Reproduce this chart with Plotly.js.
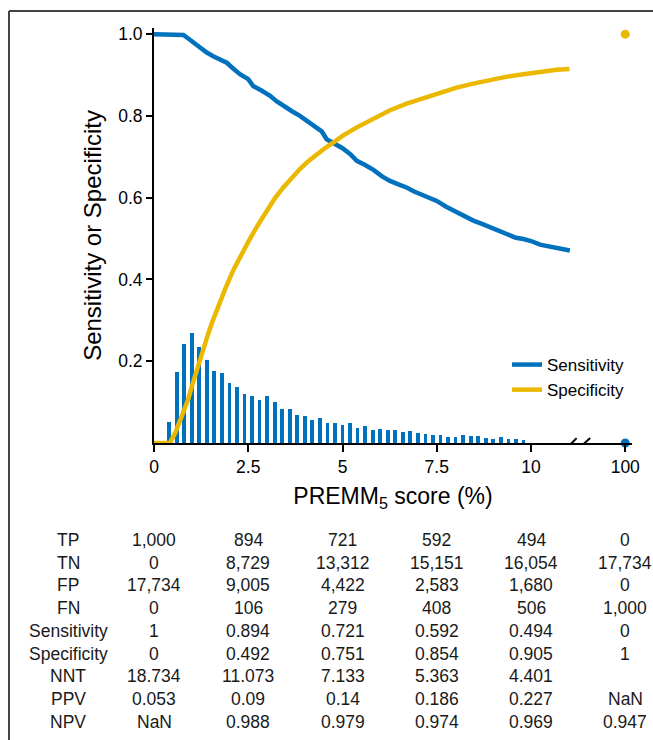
<!DOCTYPE html>
<html>
<head>
<meta charset="utf-8">
<script src="https://cdn.plot.ly/plotly-3.0.1.min.js"></script>
<style>html,body{margin:0;padding:0;background:#fff;}#chart{width:653px;height:740px;}</style>
</head>
<body>
<div id="chart"></div>
<script>
// ---------- data ----------
const sensScore = [0, 0.5, 0.78, 0.9, 1.04, 1.22, 1.4, 1.57, 1.75, 1.93, 2.1, 2.28, 2.5, 2.63, 2.85, 3.08, 3.25, 3.43, 3.65, 3.87, 4.1, 4.32, 4.45, 4.58, 4.75, 4.93, 5.0, 5.2, 5.38, 5.6, 5.82, 6.05, 6.26, 6.5, 6.7, 6.9, 7.14, 7.35, 7.5, 7.75, 8.03, 8.25, 8.47, 8.7, 8.91, 9.15, 9.36, 9.6, 9.8, 10.0, 10.24, 10.45, 10.68, 10.85, 11.03];
const sensValue = [1.0, 1.0, 0.998, 0.99, 0.98, 0.967, 0.955, 0.946, 0.938, 0.93, 0.916, 0.902, 0.89, 0.873, 0.862, 0.849, 0.836, 0.824, 0.812, 0.8, 0.786, 0.771, 0.762, 0.743, 0.735, 0.727, 0.721, 0.707, 0.69, 0.68, 0.668, 0.652, 0.641, 0.632, 0.625, 0.615, 0.605, 0.597, 0.592, 0.578, 0.564, 0.554, 0.544, 0.536, 0.528, 0.519, 0.511, 0.502, 0.499, 0.494, 0.485, 0.481, 0.477, 0.474, 0.471];

const specScore = [0, 0.42, 0.56, 0.67, 0.78, 0.9, 1.0, 1.11, 1.22, 1.33, 1.44, 1.55, 1.66, 1.88, 2.1, 2.3, 2.5, 2.75, 2.99, 3.2, 3.43, 3.65, 3.87, 4.1, 4.32, 4.55, 4.76, 5.0, 5.38, 5.82, 6.26, 6.7, 7.14, 7.5, 8.03, 8.47, 8.91, 9.36, 9.8, 10.0, 10.24, 10.68, 11.02];
const specValue = [0, 0, 0.024, 0.048, 0.072, 0.105, 0.137, 0.172, 0.205, 0.238, 0.268, 0.297, 0.325, 0.375, 0.422, 0.458, 0.492, 0.532, 0.568, 0.598, 0.625, 0.648, 0.67, 0.69, 0.707, 0.722, 0.735, 0.751, 0.772, 0.794, 0.814, 0.83, 0.843, 0.854, 0.869, 0.879, 0.888, 0.896, 0.902, 0.905, 0.909, 0.913, 0.915];

const histBins = [0.4, 0.6, 0.8, 1.0, 1.2, 1.4, 1.6, 1.8, 2.0, 2.2, 2.4, 2.6, 2.8, 3.0, 3.2, 3.4, 3.6, 3.8, 4.0, 4.2, 4.4, 4.6, 4.8, 5.0, 5.2, 5.4, 5.6, 5.8, 6.0, 6.2, 6.4, 6.6, 6.8, 7.0, 7.2, 7.4, 7.6, 7.8, 8.0, 8.2, 8.4, 8.6, 8.8, 9.0, 9.2, 9.4, 9.6, 9.8];
const histHeight = [0.051, 0.174, 0.243, 0.269, 0.234, 0.204, 0.177, 0.172, 0.147, 0.136, 0.121, 0.116, 0.105, 0.114, 0.100, 0.084, 0.082, 0.069, 0.066, 0.056, 0.060, 0.050, 0.050, 0.043, 0.050, 0.037, 0.041, 0.032, 0.034, 0.031, 0.033, 0.027, 0.029, 0.025, 0.021, 0.019, 0.020, 0.015, 0.015, 0.019, 0.016, 0.016, 0.012, 0.011, 0.015, 0.011, 0.009, 0.008];

const endScore = [100];
const endSens = [0];
const endSpec = [1];

const scoreTicks = [0, 2.5, 5, 7.5, 10, 100];
const yTicks = [0.2, 0.4, 0.6, 0.8, 1.0];

const rowLabels = ['TP', 'TN', 'FP', 'FN', 'Sensitivity', 'Specificity', 'NNT', 'PPV', 'NPV'];
const tpRow   = ['1,000', '894', '721', '592', '494', '0'];
const tnRow   = ['0', '8,729', '13,312', '15,151', '16,054', '17,734'];
const fpRow   = ['17,734', '9,005', '4,422', '2,583', '1,680', '0'];
const fnRow   = ['0', '106', '279', '408', '506', '1,000'];
const sensRow = ['1', '0.894', '0.721', '0.592', '0.494', '0'];
const specRow = ['0', '0.492', '0.751', '0.854', '0.905', '1'];
const nntRow  = ['18.734', '11.073', '7.133', '5.363', '4.401', ''];
const ppvRow  = ['0.053', '0.09', '0.14', '0.186', '0.227', 'NaN'];
const npvRow  = ['NaN', '0.988', '0.979', '0.974', '0.969', '0.947'];
const tableRows = [tpRow, tnRow, fpRow, fnRow, sensRow, specRow, nntRow, ppvRow, npvRow];

// ---------- broken axis mapping (0..11 linear, 100 placed after the break) ----------
const BREAK_POS = 12.5;
function axisPos(v) { return v > 20 ? BREAK_POS : v; }

// ---------- style ----------
const BLUE = '#0072BD';
const YELLOW = '#EBB800';
const FONT = 'Liberation Sans, Arial, Helvetica, sans-serif';

const traces = [
  {
    type: 'bar', x: histBins, y: histHeight, width: 0.1,
    marker: {color: BLUE, line: {width: 0}}, showlegend: false, hoverinfo: 'skip'
  },
  {
    type: 'scatter', mode: 'lines', x: sensScore, y: sensValue, name: 'Sensitivity',
    line: {color: BLUE, width: 4.5}
  },
  {
    type: 'scatter', mode: 'lines', x: specScore, y: specValue, name: 'Specificity',
    line: {color: YELLOW, width: 4.5}
  },
  {
    type: 'scatter', mode: 'markers', x: endScore.map(axisPos), y: endSens, showlegend: false,
    marker: {color: BLUE, size: 9}, cliponaxis: false
  },
  {
    type: 'scatter', mode: 'markers', x: endScore.map(axisPos), y: endSpec, showlegend: false,
    marker: {color: YELLOW, size: 9}, cliponaxis: false
  }
];

// plot geometry helpers (paper coordinates)
const L = 154, R = 21, T = 28, B = 297, W = 653, H = 740;
const PW = W - L - R, PH = H - T - B;
function px2paperX(px) { return (px - L) / PW; }
function py2paperY(py) { return (H - B - py) / PH; }

const annotations = [];
const rowY0 = 540, rowStep = 22.7;
rowLabels.forEach((lab, r) => {
  const yp = py2paperY(rowY0 + r * rowStep);
  annotations.push({xref: 'paper', yref: 'paper', x: px2paperX(68), y: yp, text: lab,
    showarrow: false, xanchor: 'center', yanchor: 'middle', font: {family: FONT, size: 17.5, color: '#1a1a1a'}});
  tableRows[r].forEach((val, c) => {
    if (val === '') return;
    annotations.push({xref: 'x', yref: 'paper', x: axisPos(scoreTicks[c]), y: yp, text: val,
      showarrow: false, xanchor: 'center', yanchor: 'middle', font: {family: FONT, size: 17.5, color: '#1a1a1a'}});
  });
});

const shapes = [
  // axis break marks
  {type: 'line', xref: 'x', yref: 'y', x0: 10.99, y0: -0.0085, x1: 11.21, y1: 0.012, line: {color: '#000', width: 2}},
  {type: 'line', xref: 'x', yref: 'y', x0: 11.32, y0: -0.0085, x1: 11.57, y1: 0.012, line: {color: '#000', width: 2}},
  // figure frame (top and left)
  {type: 'line', xref: 'paper', yref: 'paper', x0: px2paperX(9), y0: py2paperY(11), x1: px2paperX(653), y1: py2paperY(11), line: {color: '#444', width: 2}},
  {type: 'line', xref: 'paper', yref: 'paper', x0: px2paperX(9), y0: py2paperY(11), x1: px2paperX(9), y1: py2paperY(740), line: {color: '#444', width: 2}}
];

const layout = {
  width: W, height: H,
  margin: {l: L, r: R, t: T, b: B, pad: 0},
  paper_bgcolor: '#fff', plot_bgcolor: '#fff',
  font: {family: FONT, size: 17, color: '#000'},
  bargap: 0,
  xaxis: {
    range: [0, PW / 37.7], showgrid: false, zeroline: false,
    showline: true, linecolor: '#000', linewidth: 2,
    ticks: 'outside', ticklen: 7, tickwidth: 2, tickcolor: '#000',
    tickvals: scoreTicks.map(axisPos), ticktext: scoreTicks.map(String),
    tickfont: {family: FONT, size: 17.5, color: '#000'},
    title: {text: 'PREMM<sub>5</sub> score (%)', font: {family: FONT, size: 23, color: '#000'}, standoff: 12}
  },
  yaxis: {
    range: [0, 1.015], showgrid: false, zeroline: false,
    showline: true, linecolor: '#000', linewidth: 2,
    ticks: 'outside', ticklen: 6, tickwidth: 2, tickcolor: '#000',
    tickvals: yTicks, ticktext: yTicks.map(v => v.toFixed(1)),
    tickfont: {family: FONT, size: 17.5, color: '#000'},
    title: {text: 'Sensitivity or Specificity', font: {family: FONT, size: 24, color: '#000'}, standoff: 10}
  },
  legend: {
    x: px2paperX(507), y: py2paperY(347), xanchor: 'left', yanchor: 'top',
    bgcolor: 'rgba(0,0,0,0)', borderwidth: 0,
    font: {family: FONT, size: 17, color: '#000'}
  },
  annotations: annotations,
  shapes: shapes,
  showlegend: true
};

Plotly.newPlot('chart', traces, layout, {displayModeBar: false, staticPlot: true});
</script>
</body>
</html>
